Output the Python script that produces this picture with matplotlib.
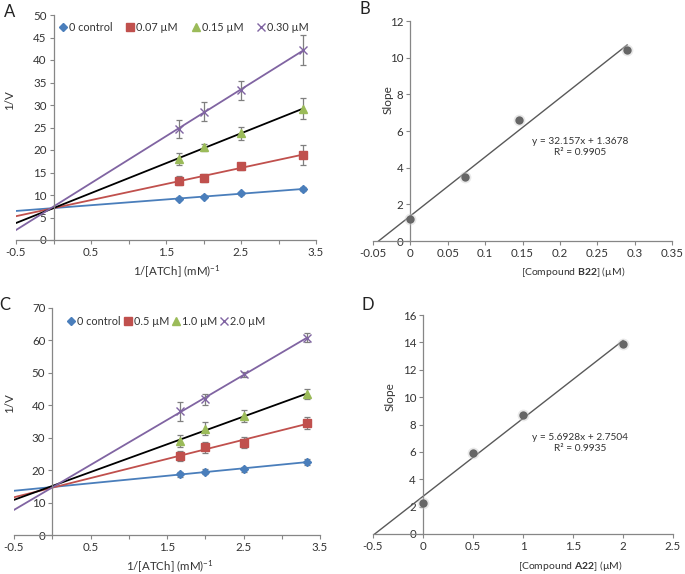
import numpy as np
import matplotlib
matplotlib.use("Agg")
import matplotlib.pyplot as plt

plt.rcParams["font.family"] = ["Lato", "DejaVu Sans"]
plt.rcParams["mathtext.fontset"] = "custom"
plt.rcParams["mathtext.rm"] = "Lato"
plt.rcParams["mathtext.bf"] = "Lato:bold"
plt.rcParams["mathtext.it"] = "Lato:italic"

# ---------------- data ----------------
inv_atch = [1.667, 2.0, 2.5, 3.333]

# panel A (compound B22)
a_labels = ["0 control", "0.07 µM", "0.15 µM", "0.30 µM"]
a_y = [
    [9.2, 9.6, 10.4, 11.3],
    [13.2, 13.8, 16.4, 18.9],
    [18.0, 20.6, 23.7, 29.2],
    [24.7, 28.5, 33.3, 42.2],
]
a_err = [
    [0.3, 0.3, 0.3, 0.4],
    [1.0, 0.8, 0.8, 2.3],
    [1.3, 0.8, 1.4, 2.4],
    [2.0, 2.1, 2.1, 3.4],
]

# panel C (compound A22)
c_labels = ["0 control", "0.5 µM", "1.0 µM", "2.0 µM"]
c_y = [
    [18.7, 19.5, 20.3, 22.6],
    [24.4, 27.0, 28.5, 34.6],
    [28.9, 32.8, 36.6, 43.5],
    [38.1, 41.9, 49.5, 60.9],
]
c_err = [
    [0.8, 0.8, 0.8, 0.9],
    [1.5, 1.8, 1.8, 1.8],
    [1.8, 1.9, 1.8, 1.6],
    [2.8, 1.7, 0.8, 1.3],
]

# secondary plots
b_conc = [0.0, 0.073, 0.145, 0.29]
b_slope = [1.2, 3.5, 6.6, 10.4]
b_fit = (32.157, 1.3678)
b_r2 = 0.9905

d_conc = [0.0, 0.5, 1.0, 2.0]
d_slope = [2.3, 5.9, 8.7, 13.9]
d_fit = (5.6928, 2.7504)
d_r2 = 0.9935

# ---------------- style ----------------
W, H = 685, 574
marker_colors = ["#4A7EBB", "#C0504D", "#9BBB59", "#8064A2"]
line_colors = ["#4A7EBB", "#C0504D", "#000000", "#8064A2"]
markers = ["D", "s", "^", "x"]
msizes = [4.2, 5.8, 5.2, 6.0]
axis_gray = "#868686"
text_col = "#333333"
FS = 8.3
LEG_FS = 7.8


def px_rect(left, top, right, bottom):
    return [left / W, 1 - bottom / H, (right - left) / W, (bottom - top) / H]


def px(x, y):
    return x / W, 1 - y / H


def style_axes(ax):
    ax.spines["top"].set_visible(False)
    ax.spines["right"].set_visible(False)
    ax.spines["left"].set_position(("data", 0))
    for s in ("left", "bottom"):
        ax.spines[s].set_color(axis_gray)
        ax.spines[s].set_linewidth(0.9)
    ax.tick_params(axis="both", colors=axis_gray, labelcolor=text_col,
                   labelsize=FS, length=3, width=0.8, direction="out", pad=2)
    ax.patch.set_alpha(0)


def kinetics_panel(ax, y_sets, err_sets, labels, ymax, ystep, legend_kw):
    x = np.array(inv_atch)
    xl = np.array([-0.5, x[-1]])
    for i, (ys, es) in enumerate(zip(y_sets, err_sets)):
        k, b = np.polyfit(x, ys, 1)
        ax.plot(xl, k * xl + b, color=line_colors[i], lw=1.3, zorder=2)
        ax.errorbar(x, ys, yerr=es, fmt="none", ecolor="#7F7F7F",
                    elinewidth=0.9, capsize=2, capthick=0.9, zorder=3)
        ax.plot(x, ys, linestyle="none", marker=markers[i], ms=msizes[i],
                color=marker_colors[i], mec=marker_colors[i], mew=1.0,
                label=labels[i], zorder=4)
    ax.set_xlim(-0.5, 3.5)
    ax.set_ylim(0, ymax)
    ax.set_yticks(np.arange(0, ymax + 0.1, ystep))
    ticks = np.arange(-0.5, 3.51, 0.5)
    ax.set_xticks(ticks)
    ax.set_xticklabels([f"{t:g}" if i % 2 == 0 else "" for i, t in enumerate(ticks)])
    style_axes(ax)
    leg = ax.legend(frameon=False, ncol=4, fontsize=LEG_FS, handlelength=0.7,
                    handletextpad=0.2, borderaxespad=0, **legend_kw)
    for t in leg.get_texts():
        t.set_color(text_col)


def slope_panel(ax, conc, slopes, fit, r2, xlim, xstep, ymax):
    k, b = fit
    ax.plot([-b / k, conc[-1]], [0, k * conc[-1] + b], color="#595959", lw=1.0, zorder=2)
    ax.plot(conc, slopes, linestyle="none", marker="o", ms=8.5, color="#C8C8C8",
            alpha=0.4, mew=0, zorder=3)
    ax.plot(conc, slopes, linestyle="none", marker="o", ms=6, color="#666666",
            mew=0, zorder=4)
    ax.set_xlim(*xlim)
    ax.set_ylim(0, ymax)
    ax.set_yticks(np.arange(0, ymax + 0.1, 2))
    ticks = np.arange(xlim[0], xlim[1] + xstep / 2, xstep)
    ax.set_xticks(ticks)
    ax.set_xticklabels([f"{round(t, 3):g}" for t in ticks])
    style_axes(ax)
    return f"y = {k}x + {b}\nR² = {r2}"


fig = plt.figure(figsize=(W / 100, H / 100), dpi=100)

# ---- A ----
axA = fig.add_axes(px_rect(16, 15, 316, 240))
kinetics_panel(axA, a_y, a_err, a_labels, 50, 5,
               dict(loc="upper left", bbox_to_anchor=(0.13, 0.99), columnspacing=1.3))
fig.text(*px(177, 272), "1/[ATCh] (mM)$^{-1}$", ha="center", va="center",
         fontsize=FS, color=text_col)
fig.text(*px(10, 100), "1/V", ha="center", va="center", rotation=90,
         fontsize=FS, color=text_col)
fig.text(*px(10, 12), "A", ha="center", va="center", fontsize=12, color="#222222")

# ---- B ----
axB = fig.add_axes(px_rect(373, 21, 672, 241))
eq = slope_panel(axB, b_conc, b_slope, b_fit, b_r2, (-0.05, 0.35), 0.05, 12)
fig.text(*px(580, 147), eq, ha="center", va="center", fontsize=7.3, color=text_col,
         linespacing=1.3)
fig.text(*px(573, 272), "[Compound $\\mathbf{B22}$] (µM)", ha="center", va="center",
         fontsize=7.5, color=text_col)
fig.text(*px(388, 100), "Slope", ha="center", va="center", rotation=90,
         fontsize=8.5, color=text_col)
fig.text(*px(365, 9), "B", ha="center", va="center", fontsize=12, color="#222222")

# ---- C ----
axC = fig.add_axes(px_rect(14, 308, 320, 535))
kinetics_panel(axC, c_y, c_err, c_labels, 70, 10,
               dict(loc="upper left", bbox_to_anchor=(0.16, 0.985), columnspacing=0.3))
fig.text(*px(170, 567), "1/[ATCh] (mM)$^{-1}$", ha="center", va="center",
         fontsize=FS, color=text_col)
fig.text(*px(10, 403), "1/V", ha="center", va="center", rotation=90,
         fontsize=FS, color=text_col)
fig.text(*px(5, 305), "C", ha="center", va="center", fontsize=12, color="#222222")

# ---- D ----
axD = fig.add_axes(px_rect(373, 315, 673, 534))
eq = slope_panel(axD, d_conc, d_slope, d_fit, d_r2, (-0.5, 2.5), 0.5, 16)
fig.text(*px(580, 443), eq, ha="center", va="center", fontsize=7.3, color=text_col,
         linespacing=1.3)
fig.text(*px(570, 566), "[Compound $\\mathbf{A22}$] (µM)", ha="center", va="center",
         fontsize=7.5, color=text_col)
fig.text(*px(390, 397), "Slope", ha="center", va="center", rotation=90,
         fontsize=8.5, color=text_col)
fig.text(*px(368, 305), "D", ha="center", va="center", fontsize=12, color="#222222")

fig.savefig("out.png", dpi=100)
